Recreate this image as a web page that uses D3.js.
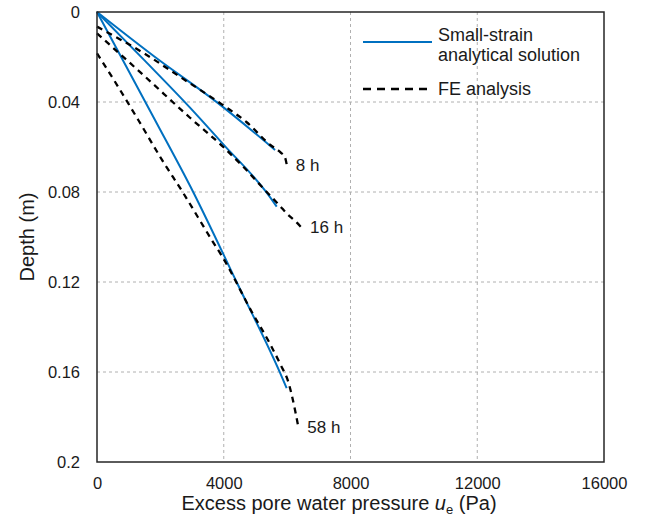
<!DOCTYPE html>
<html>
<head>
<meta charset="utf-8">
<script src="https://cdn.jsdelivr.net/npm/d3@7"></script>
<style>
  html, body { margin: 0; padding: 0; background: #fff; }
  svg { display: block; font-family: "Liberation Sans", Arial, sans-serif; }
</style>
</head>
<body>
<svg id="chart" width="647" height="520"></svg>
<script>
// ---- data ----
const xTicks = [0, 4000, 8000, 12000, 16000];
const xTickLabels = ["0", "4000", "8000", "12000", "16000"];
const yTicks = [0, 0.04, 0.08, 0.12, 0.16, 0.2];
const yTickLabels = ["0", "0.04", "0.08", "0.12", "0.16", "0.2"];

// Small-strain analytical solution: [pressure (Pa), depth (m)]
const analytical8h = [[0, 0], [1830, 0.0200], [3820, 0.0405], [5620, 0.0613]];
const analytical16h = [[0, 0], [1500, 0.0215], [2935, 0.0425], [3986, 0.0588], [5356, 0.0803], [5671, 0.0865]];
const analytical58h = [[0, 0], [1830, 0.0480], [3039, 0.0801], [4409, 0.1201], [5775, 0.1603], [5987, 0.1672]];

// FE analysis
const fe8h = [[0, 0.0065], [1568, 0.0191], [2619, 0.0288], [3986, 0.0415], [4724, 0.0490], [5460, 0.0590], [5800, 0.0625], [5930, 0.0645], [5990, 0.0680]];
const fe16h = [[0, 0.0095], [1500, 0.0285], [2935, 0.0470], [3986, 0.0600], [4617, 0.0688], [5356, 0.0800], [5775, 0.0862], [6000, 0.0897], [6300, 0.0935], [6440, 0.0956]];
const fe58h = [[0, 0.0184], [568, 0.0310], [1303, 0.0480], [2042, 0.0655], [2724, 0.0805], [3620, 0.1013], [3986, 0.1095], [4882, 0.1332], [5460, 0.1475], [5800, 0.1570], [6037, 0.1644], [6249, 0.1769], [6353, 0.1844]];

const curveLabels = ["8 h", "16 h", "58 h"];
const legendLabels = [["Small-strain", "analytical solution"], ["FE analysis"]];

// ---- layout ----
const svg = d3.select("#chart");
const margin = { left: 97, top: 12, right: 43, bottom: 58 };
const W = 647, H = 520;
const pw = W - margin.left - margin.right;   // 507
const ph = H - margin.top - margin.bottom;   // 450

const x = d3.scaleLinear().domain([0, 16000]).range([0, pw]);
const y = d3.scaleLinear().domain([0, 0.2]).range([0, ph]);

const g = svg.append("g").attr("transform", `translate(${margin.left},${margin.top})`);

// gridlines
g.append("g").selectAll("line.vg").data(xTicks.slice(1, -1)).join("line")
  .attr("x1", d => x(d)).attr("x2", d => x(d)).attr("y1", 0).attr("y2", ph)
  .attr("stroke", "#b0b0b0").attr("stroke-width", 1).attr("stroke-dasharray", "3,3");
g.append("g").selectAll("line.hg").data(yTicks.slice(1, -1)).join("line")
  .attr("y1", d => y(d)).attr("y2", d => y(d)).attr("x1", 0).attr("x2", pw)
  .attr("stroke", "#b0b0b0").attr("stroke-width", 1).attr("stroke-dasharray", "3,3");

// axes (labels only)
const xAxis = d3.axisBottom(x).tickValues(xTicks).tickFormat((d, i) => xTickLabels[i]).tickSize(0).tickPadding(15);
const yAxis = d3.axisLeft(y).tickValues(yTicks).tickFormat((d, i) => yTickLabels[i]).tickSize(0).tickPadding(17);
const gx = g.append("g").attr("transform", `translate(0,${ph})`).call(xAxis);
const gy = g.append("g").call(yAxis);
[gx, gy].forEach(a => {
  a.select(".domain").remove();
  a.selectAll("text").attr("font-size", 16.5).attr("fill", "#1a1a1a")
    .attr("font-family", "'Liberation Sans', Arial, sans-serif");
});

// series
const line = d3.line().x(d => x(d[0])).y(d => y(d[1])).curve(d3.curveMonotoneX);
const blue = "#0070C0";
[analytical8h, analytical16h, analytical58h].forEach(s => {
  g.append("path").datum(s).attr("d", line).attr("fill", "none")
    .attr("stroke", blue).attr("stroke-width", 2);
});
const feSeries = [fe8h, fe16h, fe58h];
feSeries.forEach(s => {
  g.append("path").datum(s).attr("d", line).attr("fill", "none")
    .attr("stroke", "#000").attr("stroke-width", 2.3).attr("stroke-dasharray", "6,5");
});

// curve labels
feSeries.forEach((s, i) => {
  const last = s[s.length - 1];
  g.append("text").attr("x", x(last[0]) + 9).attr("y", y(last[1]))
    .attr("dy", "0.35em").attr("font-size", 17).attr("fill", "#1a1a1a")
    .text(curveLabels[i]);
});

// border
g.append("rect").attr("x", 0).attr("y", 0).attr("width", pw).attr("height", ph)
  .attr("fill", "none").attr("stroke", "#262626").attr("stroke-width", 1.5);

// legend
const lg = svg.append("g");
lg.append("line").attr("x1", 363).attr("x2", 432).attr("y1", 42).attr("y2", 42)
  .attr("stroke", blue).attr("stroke-width", 2);
lg.append("text").attr("x", 438).attr("y", 35).attr("dy", "0.35em").attr("font-size", 18)
  .attr("fill", "#1a1a1a").text(legendLabels[0][0]);
lg.append("text").attr("x", 438).attr("y", 55).attr("dy", "0.35em").attr("font-size", 18)
  .attr("fill", "#1a1a1a").text(legendLabels[0][1]);
lg.append("line").attr("x1", 363).attr("x2", 432).attr("y1", 89).attr("y2", 89)
  .attr("stroke", "#000").attr("stroke-width", 2.3).attr("stroke-dasharray", "8,6");
lg.append("text").attr("x", 438).attr("y", 89).attr("dy", "0.35em").attr("font-size", 18)
  .attr("fill", "#1a1a1a").text(legendLabels[1][0]);

// axis titles
const xt = svg.append("text").attr("x", 339).attr("y", 510).attr("text-anchor", "middle")
  .attr("font-size", 20).attr("fill", "#1a1a1a");
xt.append("tspan").text("Excess pore water pressure ");
xt.append("tspan").attr("font-style", "italic").text("u");
xt.append("tspan").attr("font-size", 13).attr("dy", 4).text("e");
xt.append("tspan").attr("dy", -4).text(" (Pa)");

svg.append("text").attr("transform", `translate(27,${margin.top + ph / 2}) rotate(-90)`)
  .attr("text-anchor", "middle").attr("dy", "0.35em").attr("font-size", 20).attr("fill", "#1a1a1a")
  .text("Depth (m)");
</script>
</body>
</html>
